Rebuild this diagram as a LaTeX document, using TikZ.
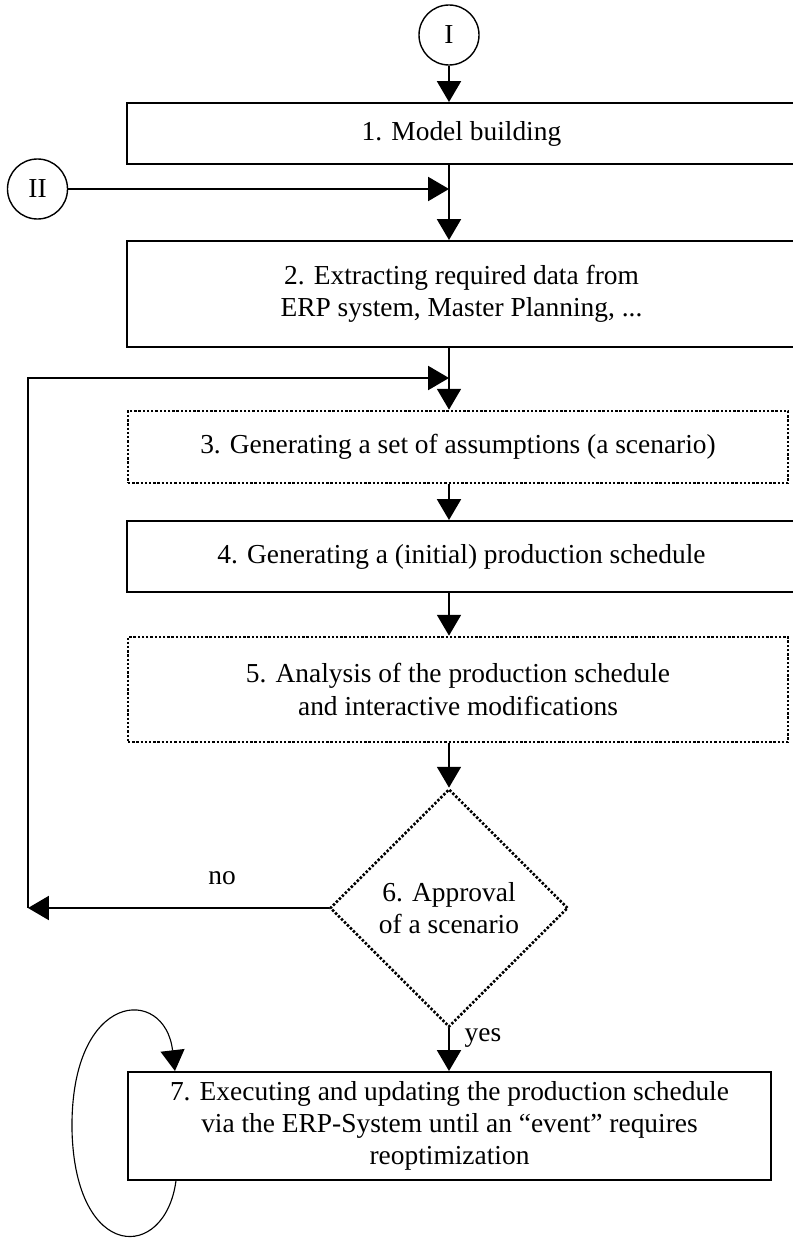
\documentclass[tikz,border=0pt]{standalone}
\usepackage{fontspec}
\setmainfont{Liberation Serif}
\usetikzlibrary{arrows.meta,shapes.geometric}

\begin{document}
\begin{tikzpicture}[x=0.025cm,y=-0.025cm,
    every node/.style={font=\fontsize{19.5}{23}\selectfont},
    solidbox/.style={draw,line width=1.4pt,minimum width=16.7cm,align=center},
    dotbox/.style={draw,line width=1.9pt,dash pattern=on 1.7pt off 1.3pt,minimum width=16.5cm,align=center},
    conn/.style={draw,circle,line width=1pt,minimum size=1.5cm,inner sep=0pt},
    arr/.style={line width=1.1pt,-{Triangle[length=0.52cm,width=0.6cm]}}]
        \useasboundingbox (0,0) rectangle (793,1242);
        \clip (0,0) rectangle (793,1242);
        % steps
        \node[conn] (I) at (449,35) {I};
        \node[solidbox,minimum height=1.525cm] (b1) at (461.5,133.5) {1. Model building};
        \node[conn] (II) at (37.5,189) {II};
        \node[solidbox,minimum height=2.65cm] (b2) at (461.5,294) {2. Extracting required data from\\ERP system, Master Planning, ...};
        \node[dotbox,minimum height=1.8cm] (b3) at (458,447) {3. Generating a set of assumptions (a scenario)};
        \node[solidbox,minimum height=1.775cm] (b4) at (461.5,556.5) {4. Generating a (initial) production schedule};
        \node[dotbox,minimum height=2.625cm] (b5) at (458,689.5) {5. Analysis of the production schedule\\and interactive modifications};
        \node[dotbox,diamond,minimum width=5.95cm,minimum height=5.95cm,inner sep=0pt] (b6) at (449,908) {6. Approval\\of a scenario};
        \node[solidbox,minimum width=16.075cm,minimum height=2.7cm] (b7) at (449.5,1126) {7. Executing and updating the production schedule\\via the ERP-System until an “event” requires\\reoptimization};
        \node (no) at (222,878) {no};
        \node (yes) at (483,1038) {yes};
        \coordinate (j1) at (I |- II);
        \coordinate (j2) at (28,378);
        % flow
        \draw[arr] (I) -- (I |- b1.north);
        \draw[arr] (I |- b1.south) -- (I |- b2.north);
        \draw[arr] (II) -- (j1);
        \draw[arr] (I |- b2.south) -- (I |- b3.north);
        \draw[arr] (I |- b3.south) -- (I |- b4.north);
        \draw[arr] (I |- b4.south) -- (I |- b5.north);
        \draw[arr] (I |- b5.south) -- (b6.north);
        \draw[arr] (b6.south) -- (I |- b7.north);
        \draw[arr] (b6.west) -- (b6.west -| j2);
        \draw[arr] (b6.west -| j2) -- (j2) -- (j2 -| I);
        \draw[line width=0.8pt,-{Triangle[length=0.52cm,width=0.6cm]}] ([xshift=1.225cm]b7.south west) .. controls (165,1262) and (75,1262) .. (72,1130) .. controls (70,990) and (165,985) .. ([xshift=1.2cm]b7.north west);
      \end{tikzpicture}
\end{document}
